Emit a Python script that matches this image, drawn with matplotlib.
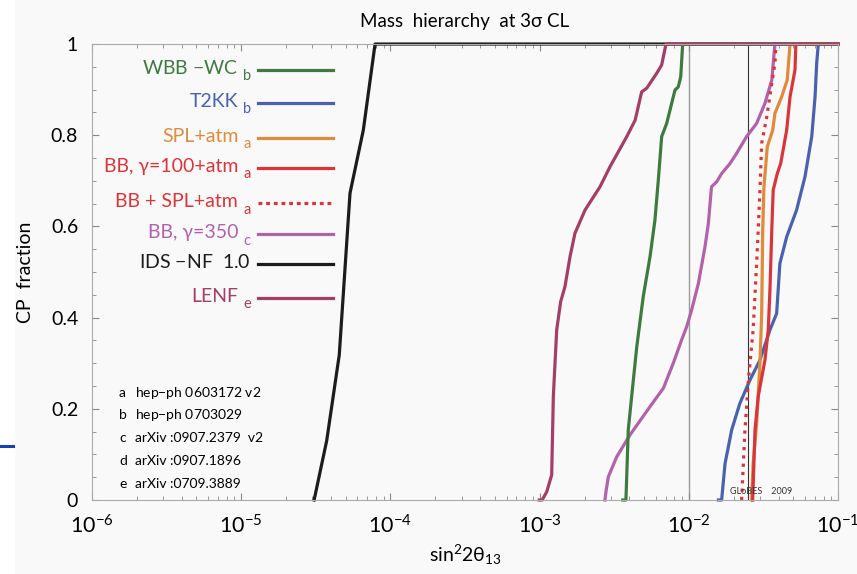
import numpy as np
import matplotlib
matplotlib.use("Agg")
import matplotlib.pyplot as plt
from matplotlib.patches import Rectangle
from matplotlib.lines import Line2D
from matplotlib.ticker import FixedLocator, MultipleLocator, LogLocator, NullFormatter

plt.rcParams['font.family'] = ['Lato', 'DejaVu Sans']
plt.rcParams['mathtext.fontset'] = 'custom'
plt.rcParams['mathtext.rm'] = 'Lato'
plt.rcParams['mathtext.it'] = 'Lato:italic'
plt.rcParams['mathtext.default'] = 'regular'

# curves: sin^2 2theta13 values (x) and CP fraction (y)
ids_x = [3.08e-5, 3.74e-5, 4.54e-5, 5.36e-5, 6.58e-5, 7.89e-5, 1e-1]
ids_y = [0.0, 0.13, 0.318, 0.673, 0.811, 1.0, 1.0]

lenf_x = [9.95e-4, 1.04e-3, 1.116e-3, 1.205e-3, 1.236e-3, 1.302e-3, 1.384e-3, 1.479e-3,
          1.600e-3, 1.726e-3, 2.017e-3, 2.541e-3, 2.965e-3, 3.84e-3, 4.37e-3, 4.83e-3,
          5.22e-3, 6.10e-3, 6.58e-3, 7.03e-3, 1e-1]
lenf_y = [0.0, 0.0, 0.018, 0.055, 0.227, 0.373, 0.435, 0.468,
          0.534, 0.585, 0.636, 0.687, 0.731, 0.797, 0.833, 0.895,
          0.903, 0.936, 0.954, 1.0, 1.0]

wbb_x = [3.61e-3, 3.79e-3, 3.93e-3, 4.14e-3, 4.48e-3, 4.95e-3, 5.50e-3, 5.93e-3,
         6.25e-3, 6.58e-3, 7.11e-3, 8.08e-3, 8.50e-3, 8.83e-3, 9.10e-3, 1e-1]
wbb_y = [0.0, 0.0, 0.154, 0.227, 0.336, 0.446, 0.534, 0.614,
         0.702, 0.797, 0.826, 0.899, 0.906, 0.928, 1.0, 1.0]

bb350_x = [2.74e-3, 2.79e-3, 2.89e-3, 3.29e-3, 4.04e-3, 5.50e-3, 6.75e-3, 7.87e-3,
           8.95e-3, 9.68e-3, 1.045e-2, 1.16e-2, 1.285e-2, 1.353e-2, 1.42e-2, 1.54e-2,
           1.66e-2, 1.89e-2, 2.09e-2, 2.44e-2, 2.85e-2, 3.24e-2, 3.60e-2, 3.78e-2, 1e-1]
bb350_y = [0.0, 0.02, 0.051, 0.095, 0.143, 0.205, 0.245, 0.30,
           0.351, 0.38, 0.417, 0.475, 0.556, 0.607, 0.687, 0.698,
           0.716, 0.738, 0.760, 0.797, 0.826, 0.870, 0.921, 1.0, 1.0]

t2kk_x = [1.58e-2, 1.66e-2, 1.75e-2, 1.94e-2, 2.20e-2, 2.57e-2, 3.00e-2, 3.50e-2,
          3.88e-2, 4.08e-2, 4.53e-2, 5.28e-2, 6.01e-2, 6.67e-2, 7.02e-2, 7.20e-2, 7.38e-2, 1e-1]
t2kk_y = [0.0, 0.0, 0.08, 0.154, 0.212, 0.263, 0.307, 0.373,
          0.409, 0.519, 0.577, 0.636, 0.709, 0.797, 0.884, 0.958, 1.0, 1.0]

spl_x = [2.64e-2, 2.70e-2, 2.85e-2, 3.00e-2, 3.08e-2, 3.13e-2, 3.19e-2, 3.36e-2,
         3.65e-2, 3.78e-2, 4.19e-2, 4.57e-2, 4.77e-2, 1e-1]
spl_y = [0.0, 0.08, 0.168, 0.30, 0.409, 0.592, 0.687, 0.775,
         0.811, 0.848, 0.884, 0.921, 1.0, 1.0]

bb100_x = [2.68e-2, 2.78e-2, 2.92e-2, 3.24e-2, 3.41e-2, 3.50e-2, 3.60e-2, 3.68e-2,
           3.92e-2, 4.13e-2, 4.53e-2, 4.77e-2, 5.15e-2, 5.22e-2, 1e-1]
bb100_y = [0.0, 0.154, 0.227, 0.307, 0.373, 0.461, 0.592, 0.68,
           0.716, 0.738, 0.811, 0.884, 0.943, 1.0, 1.0]

bbspl_x = [2.26e-2, 2.38e-2, 2.51e-2, 2.70e-2, 2.85e-2, 2.92e-2, 3.00e-2, 3.08e-2,
           3.33e-2, 3.60e-2, 3.78e-2, 3.84e-2, 1e-1]
bbspl_y = [0.0, 0.154, 0.263, 0.373, 0.519, 0.592, 0.68, 0.782,
           0.84, 0.914, 0.958, 1.0, 1.0]

# legend entries (main text, subscript)
leg_names = ["WBB $-$WC", "T2KK", "SPL+atm", "BB, γ=100+atm", "BB + SPL+atm",
             "BB, γ=350", "IDS $-$NF  1.0", "LENF"]
leg_subs = ["b", "b", "a", "a", "a", "c", "", "e"]
leg_colors = ["#3f7a40", "#4a62ad", "#e08a3c", "#d8363a", "#d8363a",
              "#b162aa", "#1c1c1c", "#a33f67"]

refs = [("a", "hep$-$ph 0603172 v2"), ("b", "hep$-$ph 0703029"),
        ("c", "arXiv :0907.2379  v2"), ("d", "arXiv :0907.1896"),
        ("e", "arXiv :0709.3889")]

bg = "#f9f9f9"
fig = plt.figure(figsize=(8.57, 5.74), dpi=100, facecolor=bg)
fig.add_artist(Rectangle((0, 0), 14 / 857, 1, transform=fig.transFigure,
                         color="white", zorder=0))
fig.add_artist(Line2D([0, 13 / 857], [0.223, 0.223], transform=fig.transFigure,
                      color="#1d3fae", lw=2.2))

ax = fig.add_axes([0.1074, 0.1289, 0.8704, 0.7944])
ax.set_facecolor(bg)
ax.set_xscale("log")
ax.set_xlim(1e-6, 1e-1)
ax.set_ylim(0, 1)

ax.axvline(1e-2, color="#9a9a9a", lw=1.0, zorder=1)
ax.axvline(2.5e-2, color="#333333", lw=0.8, zorder=1)

lw = 2.3
ax.plot(ids_x, ids_y, color=leg_colors[6], lw=lw, clip_on=False)
ax.plot(t2kk_x, t2kk_y, color=leg_colors[1], lw=lw, clip_on=False)
ax.plot(bb350_x, bb350_y, color=leg_colors[5], lw=lw, clip_on=False)
ax.plot(spl_x, spl_y, color=leg_colors[2], lw=lw, clip_on=False)
ax.plot(bb100_x, bb100_y, color=leg_colors[3], lw=lw, clip_on=False)
ax.plot(bbspl_x, bbspl_y, color=leg_colors[4], lw=lw, ls=(0, (1, 1.6)), clip_on=False)
ax.plot(wbb_x, wbb_y, color=leg_colors[0], lw=lw, clip_on=False)
ax.plot(lenf_x, lenf_y, color=leg_colors[7], lw=lw, clip_on=False)

# legend drawn by hand: text left of the line, subscript after the text
leg_y = [0.943, 0.871, 0.794, 0.728, 0.651, 0.583, 0.518, 0.443]
for name, sub, col, yy in zip(leg_names, leg_subs, leg_colors, leg_y):
    ls = (0, (1.2, 1.2)) if name.startswith("BB +") else "-"
    ax.plot([0.2225, 0.323], [yy, yy], transform=ax.transAxes, color=col, lw=lw, ls=ls)
    if sub:
        ax.text(0.196, yy + 0.004, name, transform=ax.transAxes, ha="right",
                va="center", color=col, fontsize=14)
        ax.text(0.203, yy - 0.014, sub, transform=ax.transAxes, ha="left",
                va="center", color=col, fontsize=10.5)
    else:
        ax.text(0.213, yy + 0.004, name, transform=ax.transAxes, ha="right",
                va="center", color=col, fontsize=14)

ref_y = [0.235, 0.186, 0.136, 0.086, 0.035]
for (k, txt), yy in zip(refs, ref_y):
    ax.text(0.036, yy, k, transform=ax.transAxes, ha="left", va="center", fontsize=10)
    ax.text(0.058, yy, txt, transform=ax.transAxes, ha="left", va="center", fontsize=10)

ax.text(0.855, 0.008, "GLoBES    2009", transform=ax.transAxes, fontsize=6.5,
        ha="left", va="bottom", color="#333333")

ax.set_title("Mass  hierarchy  at 3σ CL", fontsize=13.5, pad=12)
ax.set_xlabel(r"sin$^{2}$2$\theta_{13}$", fontsize=14, labelpad=4)
ax.set_ylabel("CP  fraction", fontsize=14, labelpad=12)

ax.yaxis.set_major_locator(FixedLocator([0, 0.2, 0.4, 0.6, 0.8, 1.0]))
ax.set_yticklabels(["0", "0.2", "0.4", "0.6", "0.8", "1"])
ax.yaxis.set_minor_locator(MultipleLocator(0.05))
ax.xaxis.set_major_locator(LogLocator(base=10, numticks=10))
ax.xaxis.set_minor_locator(LogLocator(base=10, subs=np.arange(2, 10), numticks=10))
ax.xaxis.set_minor_formatter(NullFormatter())

ax.tick_params(which="both", direction="in", top=True, right=True, color="#888888")
ax.tick_params(which="major", length=5, width=0.8)
ax.tick_params(which="minor", length=3, width=0.6)
ax.tick_params(axis="y", labelsize=14, pad=10)
ax.tick_params(axis="x", labelsize=15.5, pad=10)
for s in ax.spines.values():
    s.set_color("#aaaaaa")
    s.set_linewidth(0.8)

fig.savefig("out.png", dpi=100, facecolor=bg)
